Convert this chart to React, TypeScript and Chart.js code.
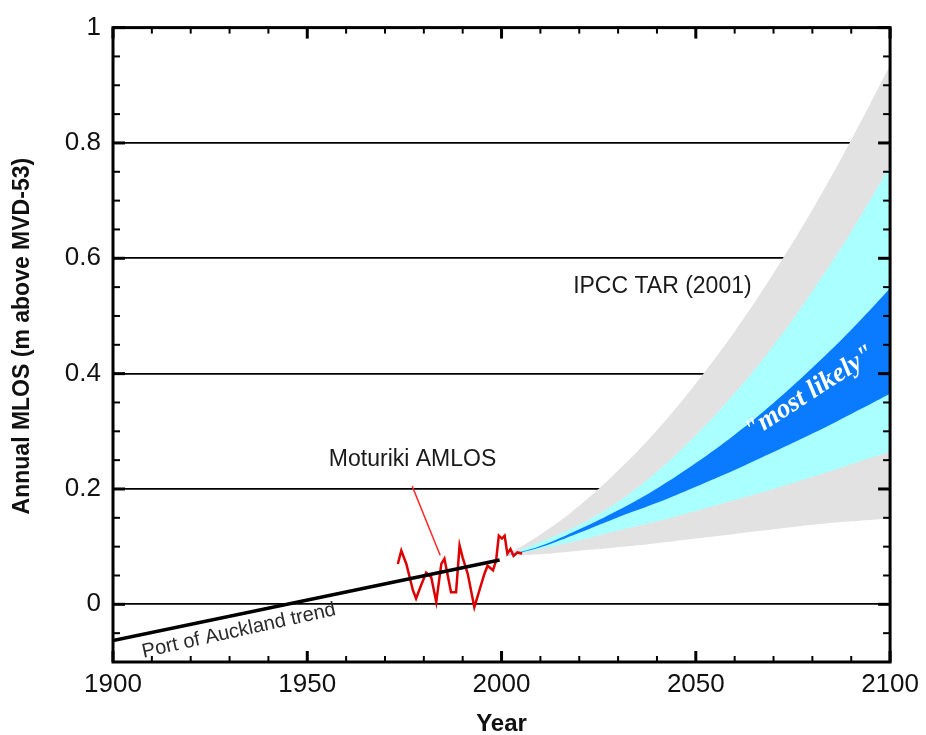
import React, { useEffect, useRef } from 'react';
import { Chart, registerables } from 'chart.js';

Chart.register(...registerables);

// ---------------- data ----------------
const trendYears = [1900, 1999.5];
const trendValues = [-0.063, 0.077];

const moturikiYears = [
  1973.3, 1974.2, 1975.5, 1977.2, 1978.0, 1979.3, 1980.6, 1981.9, 1983.2, 1984.5,
  1985.3, 1987.0, 1988.3, 1989.2, 1990.0, 1991.3, 1993.0, 1994.3, 1995.6, 1996.4,
  1997.8, 1998.6, 1999.3, 2000.1, 2000.8, 2001.5, 2002.3, 2003.1, 2004.1, 2005.3,
];
const moturikiValues = [
  0.07, 0.093, 0.07, 0.024, 0.01, 0.033, 0.055, 0.047, 0.004, 0.07,
  0.079, 0.021, 0.021, 0.102, 0.081, 0.053, -0.005, 0.024, 0.053, 0.067,
  0.059, 0.076, 0.119, 0.114, 0.119, 0.088, 0.096, 0.084, 0.09, 0.088,
];

const fanYears = [2001, 2010, 2020, 2030, 2040, 2050, 2060, 2070, 2080, 2090, 2100];
const grayUpper = [0.084, 0.121, 0.171, 0.232, 0.302, 0.383, 0.473, 0.574, 0.684, 0.805, 0.935];
const grayLower = [0.084, 0.087, 0.093, 0.099, 0.106, 0.114, 0.122, 0.13, 0.138, 0.144, 0.149];
const cyanUpper = [0.084, 0.108, 0.138, 0.178, 0.23, 0.293, 0.366, 0.449, 0.543, 0.646, 0.76];
const cyanLower = [0.084, 0.096, 0.111, 0.128, 0.144, 0.162, 0.181, 0.2, 0.221, 0.243, 0.265];
const blueUpper = [0.084, 0.101, 0.13, 0.163, 0.201, 0.245, 0.294, 0.349, 0.41, 0.476, 0.548];
const blueLower = [0.084, 0.099, 0.124, 0.151, 0.176, 0.204, 0.233, 0.264, 0.296, 0.33, 0.365];

const yLabelStep = 0.2;
const yMinorStep = 0.05;
const xLabelStep = 50;
const xMinorStep = 10;
const gridValues = [0, 0.2, 0.4, 0.6, 0.8];

const yTitle = 'Annual MLOS (m above MVD-53)';
const xTitle = 'Year';

// annotation anchors in data coordinates
const labelMoturiki = { text: 'Moturiki AMLOS', x: 1977.1, y: 0.25 };
const labelIpcc = { text: 'IPCC TAR (2001)', x: 2041.4, y: 0.55 };
const labelTrend = { text: 'Port of Auckland trend', x: 1932.4, y: -0.046 };
const labelLikely = { text: '"most likely"', x: 2079.4, y: 0.367 };
const yTitleAnchor = { x: 1900, y: 0.465 };
const arrowFrom = { x: 1977.0, y: 0.205 };
const arrowTo = { x: 1984.2, y: 0.085 };

// ---------------- helpers ----------------
const isMult = (v: number, step: number) => Math.abs(v / step - Math.round(v / step)) < 1e-6;
const pts = (xs: number[], ys: number[]) => xs.map((x, i) => ({ x, y: ys[i] }));
const SANS = 'Arial, "Liberation Sans", sans-serif';

const decorPlugin = {
  id: 'decor',
  afterDatasetsDraw(chart: any) {
    const { ctx, chartArea: a, scales } = chart;
    const xs = scales.x;
    const ys = scales.y;
    ctx.save();
    ctx.strokeStyle = '#000';
    ctx.lineCap = 'butt';
    const seg = (x1: number, y1: number, x2: number, y2: number) => {
      ctx.beginPath();
      ctx.moveTo(x1, y1);
      ctx.lineTo(x2, y2);
      ctx.stroke();
    };
    // x ticks (inward, top and bottom)
    xs.ticks.forEach((t: any) => {
      const px = xs.getPixelForValue(t.value);
      const major = isMult(t.value, xLabelStep);
      const len = major ? 11 : 6;
      ctx.lineWidth = major ? 3 : 2;
      seg(px, a.bottom, px, a.bottom - len);
      seg(px, a.top, px, a.top + len);
    });
    // y ticks (inward, left and right)
    ys.ticks.forEach((t: any) => {
      const py = ys.getPixelForValue(t.value);
      const major = isMult(t.value, yLabelStep);
      const len = major ? 12 : 7;
      ctx.lineWidth = major ? 3 : 2;
      seg(a.left, py, a.left + len, py);
      seg(a.right, py, a.right - len, py);
    });
    // frame
    ctx.lineWidth = 3;
    ctx.strokeRect(a.left, a.top, a.right - a.left, a.bottom - a.top);

    // annotation arrow
    ctx.strokeStyle = '#ff2a2a';
    ctx.lineWidth = 1.5;
    seg(
      xs.getPixelForValue(arrowFrom.x), ys.getPixelForValue(arrowFrom.y),
      xs.getPixelForValue(arrowTo.x), ys.getPixelForValue(arrowTo.y)
    );

    const drawText = (text: string, px: number, py: number, font: string, color: string, angleDeg: number) => {
      ctx.save();
      ctx.translate(px, py);
      ctx.rotate((angleDeg * Math.PI) / 180);
      ctx.font = font;
      ctx.fillStyle = color;
      ctx.textAlign = 'center';
      ctx.textBaseline = 'middle';
      ctx.fillText(text, 0, 0);
      ctx.restore();
    };
    const at = (lab: any) => [xs.getPixelForValue(lab.x), ys.getPixelForValue(lab.y)];
    let p = at(labelMoturiki);
    drawText(labelMoturiki.text, p[0], p[1], `23px ${SANS}`, '#1a1a1a', 0);
    p = at(labelIpcc);
    drawText(labelIpcc.text, p[0], p[1], `23px ${SANS}`, '#1a1a1a', 0);
    p = at(labelTrend);
    drawText(labelTrend.text, p[0], p[1], `20px ${SANS}`, '#2a2a2a', -12.5);
    p = at(labelLikely);
    drawText(labelLikely.text, p[0], p[1], `italic bold 27px "Liberation Serif", "Times New Roman", serif`, '#ffffff', -33);
    // y axis title
    drawText(yTitle, 23, ys.getPixelForValue(yTitleAnchor.y), `bold 23px ${SANS}`, '#111', -90);
    ctx.restore();
  },
};

function buildConfig(): any {
  const band = (data: number[], color: string, fill: any) => ({
    data: pts(fanYears, data),
    borderColor: 'rgba(0,0,0,0)',
    borderWidth: 0,
    backgroundColor: color,
    fill,
    pointRadius: 0,
    tension: 0.4,
  });
  return {
    type: 'line',
    data: {
      datasets: [
        {
          label: 'Port of Auckland trend',
          data: pts(trendYears, trendValues),
          borderColor: '#000',
          borderWidth: 3.5,
          pointRadius: 0,
          fill: false,
          tension: 0,
        },
        {
          label: 'Moturiki AMLOS',
          data: pts(moturikiYears, moturikiValues),
          borderColor: '#dd0000',
          borderWidth: 2.5,
          pointRadius: 0,
          fill: false,
          tension: 0,
        },
        { label: 'likely upper', ...band(blueUpper, '#0a7aff', '+1') },
        { label: 'likely lower', ...band(blueLower, '#0a7aff', false) },
        { label: 'cyan upper', ...band(cyanUpper, '#aaffff', '+1') },
        { label: 'cyan lower', ...band(cyanLower, '#aaffff', false) },
        { label: 'gray upper', ...band(grayUpper, '#e2e2e2', '+1') },
        { label: 'gray lower', ...band(grayLower, '#e2e2e2', false) },
      ],
    },
    options: {
      responsive: false,
      animation: false,
      devicePixelRatio: 1,
      layout: { padding: { top: 24, right: 35, left: 0, bottom: 0 } },
      plugins: { legend: { display: false }, tooltip: { enabled: false } },
      scales: {
        x: {
          type: 'linear',
          min: 1900,
          max: 2100,
          afterFit: (s: any) => { s.height = 73; },
          grid: { display: false, drawTicks: false },
          border: { display: false },
          ticks: {
            stepSize: xMinorStep,
            autoSkip: false,
            maxRotation: 0,
            minRotation: 0,
            padding: 7,
            color: '#111',
            font: { family: SANS, size: 26 },
            callback: (v: number) => (isMult(v, xLabelStep) ? String(Math.round(v)) : ''),
          },
          title: {
            display: true,
            text: xTitle,
            color: '#111',
            font: { family: SANS, size: 24, weight: 'bold', lineHeight: 1 },
            padding: { top: 0, bottom: -1 },
          },
        },
        y: {
          type: 'linear',
          min: -0.1,
          max: 1,
          afterFit: (s: any) => { s.width = 113; },
          grid: {
            drawTicks: false,
            lineWidth: 1.8,
            color: (c: any) =>
              gridValues.some((g) => Math.abs(g - c.tick.value) < 1e-6) ? '#000' : 'rgba(0,0,0,0)',
          },
          border: { display: false },
          ticks: {
            stepSize: yMinorStep,
            autoSkip: false,
            padding: 12,
            color: '#111',
            font: { family: SANS, size: 26 },
            callback: (v: number) => (isMult(v, yLabelStep) ? String(Math.round(v * 10) / 10) : ''),
          },
          title: { display: false },
        },
      },
    },
    plugins: [decorPlugin],
  };
}

export default function App() {
  const ref = useRef<HTMLCanvasElement>(null);
  useEffect(() => {
    if (!ref.current) return;
    const chart = new Chart(ref.current, buildConfig());
    return () => chart.destroy();
  }, []);
  return (
    <div style={{ position: 'absolute', left: 0, top: 0, width: 926, height: 735, background: '#fff' }}>
      <canvas ref={ref} width={926} height={735} style={{ display: 'block', width: 926, height: 735 }} />
    </div>
  );
}
